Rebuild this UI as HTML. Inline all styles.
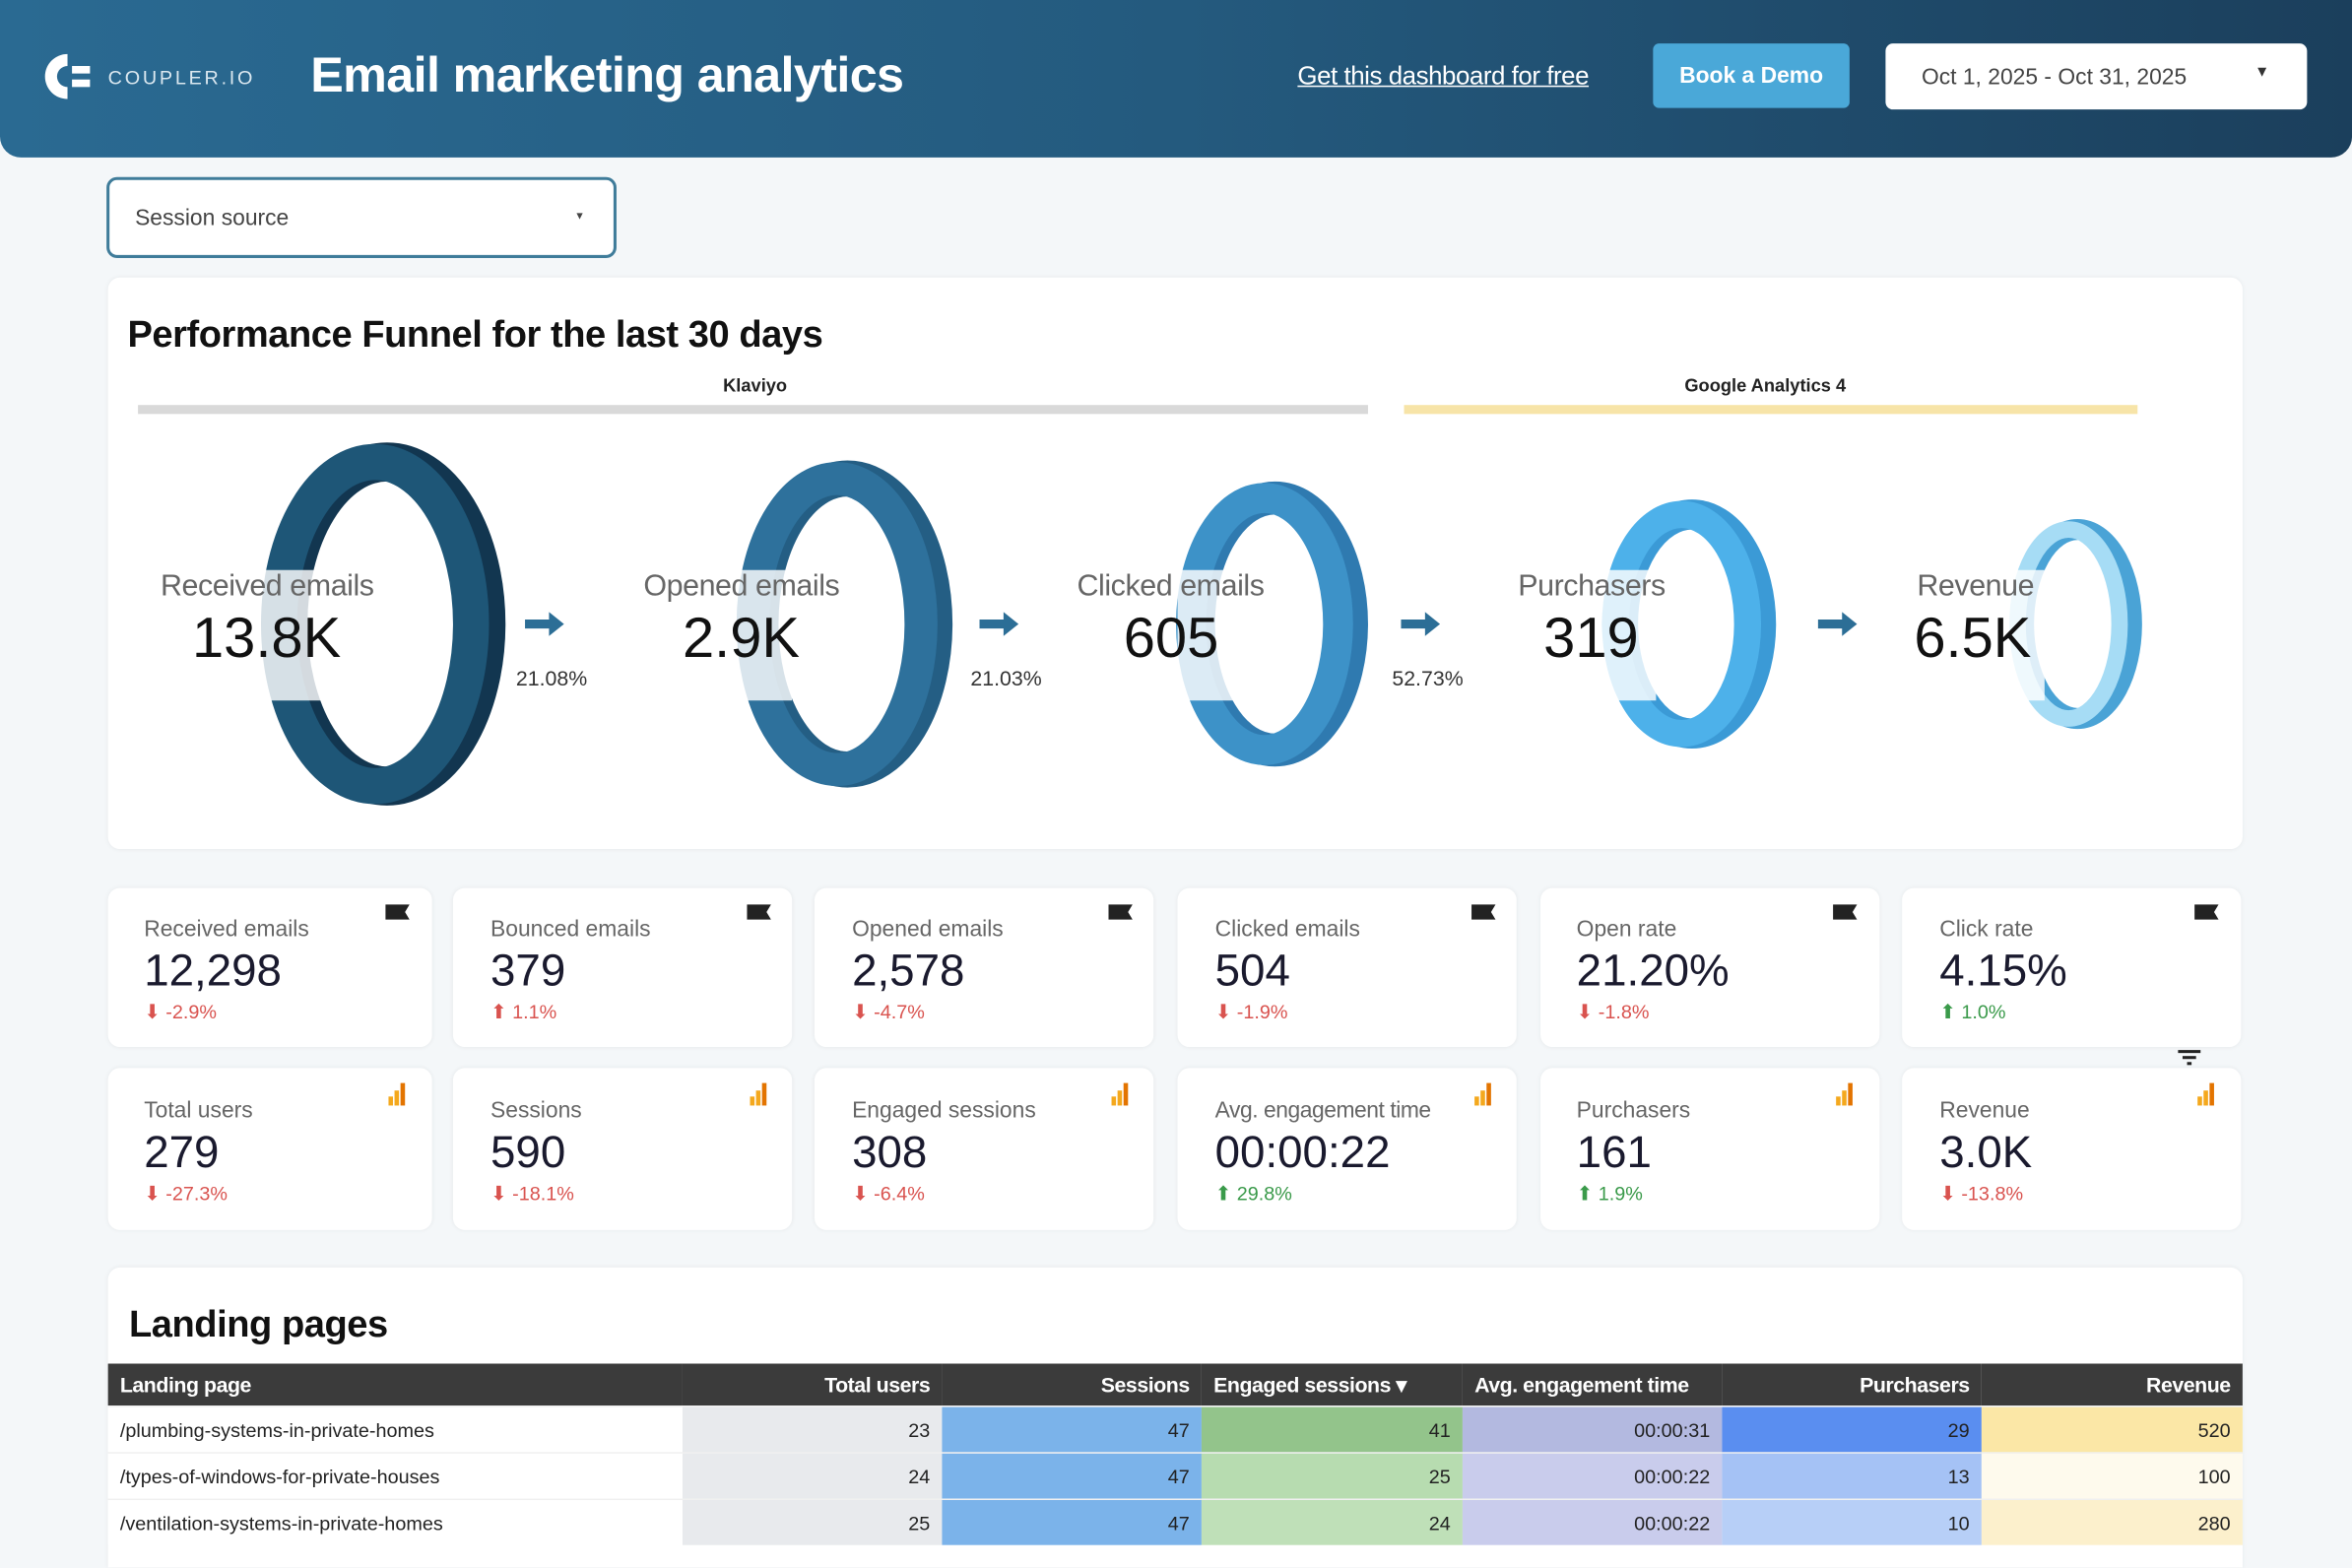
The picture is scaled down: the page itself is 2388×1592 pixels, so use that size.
<!DOCTYPE html>
<html><head><meta charset="utf-8">
<style>
html,body{margin:0;padding:0;width:2388px;height:1568px;overflow:hidden;background:#f4f7f9;}
#w{position:absolute;left:0;top:0;width:1568px;height:1030px;transform:scale(1.523);transform-origin:0 0;font-family:"Liberation Sans",sans-serif;}
.a{position:absolute;white-space:nowrap;}
.hdr{left:0;top:0;width:1568px;height:105px;border-radius:0 0 14px 14px;background:linear-gradient(90deg,#2a6a92 0%,#245a7e 50%,#1b3f5c 100%);}
.card{position:absolute;background:#fff;border-radius:8px;box-shadow:0 0 3px rgba(0,0,0,0.06);}
.lbl{font-size:15px;color:#666;}
.val{font-size:30px;color:#1a1a2e;}
.dn{font-size:13px;color:#d9534f;}
.up{font-size:13px;color:#3a9a4a;}
.fl{font-size:20px;color:#666;}
.fv{font-size:38px;color:#111;}
.pc{font-size:14px;color:#333;}
table{border-collapse:collapse;position:absolute;left:72px;top:909px;width:1423px;font-size:13px;table-layout:fixed;}
th{background:#3b3b3b;color:#fff;height:28px;font-size:14px;text-align:right;padding:0 8px;white-space:nowrap;overflow:hidden;letter-spacing:-0.3px;}
td{height:30px;text-align:right;padding:0 8px;color:#222;border-top:1px solid #f0f0f0;white-space:nowrap;}
</style></head><body><div id="w">
<div class="a hdr"></div>
<svg class="a" style="left:28px;top:34px" width="34" height="34" viewBox="0 0 34 34"><path d="M17 2 A15 15 0 1 0 17 32 L17 24 A7 7 0 1 1 17 10 Z" fill="#fff"/><rect x="20" y="10" width="12" height="5" fill="#fff"/><rect x="20" y="19" width="12" height="5" fill="#fff"/></svg>
<div class="a" style="left:72px;top:44px;font-size:13px;color:#dbe8f0;letter-spacing:1.8px;">COUPLER.IO</div>
<div class="a" style="left:207px;top:31px;font-size:33px;font-weight:bold;color:#fff;letter-spacing:-0.4px;">Email marketing analytics</div>
<div class="a" style="left:865px;top:41px;font-size:17px;color:#fff;text-decoration:underline;letter-spacing:-0.3px;">Get this dashboard for free</div>
<div class="a" style="left:1102px;top:29px;width:131px;height:43px;background:#4aa8d8;border-radius:4px;color:#fff;font-size:15px;font-weight:bold;text-align:center;line-height:43px;">Book a Demo</div>
<div class="a" style="left:1257px;top:29px;width:281px;height:44px;background:#fff;border-radius:5px;"></div>
<div class="a" style="left:1281px;top:43px;font-size:15px;color:#444;">Oct 1, 2025 - Oct 31, 2025</div>
<div class="a" style="left:1503px;top:43px;font-size:10px;color:#333;">▼</div>
<div class="a" style="left:71px;top:118px;width:336px;height:50px;border:2px solid #3f7c9a;border-radius:7px;background:#fff;"></div>
<div class="a" style="left:90px;top:137px;font-size:15px;color:#444;">Session source</div>
<div class="a" style="left:383px;top:141px;font-size:7px;color:#444;">▼</div>

<div class="card" style="left:72px;top:185px;width:1423px;height:381px;"></div>
<div class="a" style="left:85px;top:209px;font-size:25px;font-weight:bold;color:#111;letter-spacing:-0.3px;">Performance Funnel for the last 30 days</div>
<div class="a" style="left:482px;top:250px;font-size:12px;font-weight:bold;color:#222;">Klaviyo</div>
<div class="a" style="left:92px;top:270px;width:820px;height:6px;background:#d9d9d9;"></div>
<div class="a" style="left:1123px;top:250px;font-size:12px;font-weight:bold;color:#222;">Google Analytics 4</div>
<div class="a" style="left:936px;top:270px;width:489px;height:6px;background:#f7e4a8;"></div>

<svg class="a" style="left:0;top:280px" width="1568" height="280" viewBox="0 280 1568 280">
<g fill="none">
<ellipse cx="258" cy="416" rx="66" ry="108" stroke="#123650" stroke-width="26"/>
<ellipse cx="250" cy="416" rx="64" ry="108" stroke="#1e5677" stroke-width="24"/>
<ellipse cx="565" cy="416" rx="58" ry="97" stroke="#245e84" stroke-width="24"/>
<ellipse cx="558" cy="416" rx="56" ry="97" stroke="#2e719c" stroke-width="22"/>
<ellipse cx="850" cy="416" rx="51" ry="84" stroke="#2f7ab0" stroke-width="22"/>
<ellipse cx="843" cy="416" rx="49" ry="84" stroke="#3d92c8" stroke-width="20"/>
<ellipse cx="1128" cy="416" rx="46" ry="73" stroke="#3b9ad6" stroke-width="20"/>
<ellipse cx="1121" cy="416" rx="44" ry="73" stroke="#4db1ea" stroke-width="18"/>
<ellipse cx="1385" cy="416" rx="36" ry="63" stroke="#4aa3d6" stroke-width="14"/>
<ellipse cx="1379" cy="416" rx="34" ry="63" stroke="#a6dcf5" stroke-width="11"/>
</g>
<g fill="rgba(255,255,255,0.82)">
<rect x="170" y="380" width="45" height="87"/><rect x="488" y="380" width="40" height="87"/><rect x="785" y="380" width="38" height="87"/><rect x="1068" y="380" width="36" height="87"/><rect x="1335" y="380" width="28" height="87"/>
</g>
<g fill="#2c6e96"><path d="M350 413h16v-5l10 8-10 8v-5h-16z"/><path d="M653 413h16v-5l10 8-10 8v-5h-16z"/><path d="M934 413h16v-5l10 8-10 8v-5h-16z"/><path d="M1212 413h16v-5l10 8-10 8v-5h-16z"/></g>
</svg>
<div class="a fl" style="left:107px;top:380px;letter-spacing:-0.3px;">Received emails</div><div class="a fv" style="left:128px;top:405px;">13.8K</div>
<div class="a fl" style="left:429px;top:380px;letter-spacing:-0.3px;">Opened emails</div><div class="a fv" style="left:455px;top:405px;">2.9K</div>
<div class="a fl" style="left:718px;top:380px;letter-spacing:-0.3px;">Clicked emails</div><div class="a fv" style="left:749px;top:405px;">605</div>
<div class="a fl" style="left:1012px;top:380px;letter-spacing:-0.3px;">Purchasers</div><div class="a fv" style="left:1029px;top:405px;">319</div>
<div class="a fl" style="left:1278px;top:380px;letter-spacing:-0.3px;">Revenue</div><div class="a fv" style="left:1276px;top:405px;">6.5K</div>
<div class="a pc" style="left:344px;top:444px;">21.08%</div>
<div class="a pc" style="left:647px;top:444px;">21.03%</div>
<div class="a pc" style="left:928px;top:444px;">52.73%</div>

<div class="card" style="left:72px;top:592px;width:216px;height:106px;"></div>
<div class="card" style="left:302px;top:592px;width:226px;height:106px;"></div>
<div class="card" style="left:543px;top:592px;width:226px;height:106px;"></div>
<div class="card" style="left:785px;top:592px;width:226px;height:106px;"></div>
<div class="card" style="left:1027px;top:592px;width:226px;height:106px;"></div>
<div class="card" style="left:1268px;top:592px;width:226px;height:106px;"></div>
<div class="card" style="left:72px;top:712px;width:216px;height:108px;"></div>
<div class="card" style="left:302px;top:712px;width:226px;height:108px;"></div>
<div class="card" style="left:543px;top:712px;width:226px;height:108px;"></div>
<div class="card" style="left:785px;top:712px;width:226px;height:108px;"></div>
<div class="card" style="left:1027px;top:712px;width:226px;height:108px;"></div>
<div class="card" style="left:1268px;top:712px;width:226px;height:108px;"></div>

<div class="a lbl" style="left:96px;top:611px;">Received emails</div><div class="a val" style="left:96px;top:631px;">12,298</div><div class="a dn" style="left:96px;top:667px;">⬇ -2.9%</div>
<div class="a lbl" style="left:327px;top:611px;">Bounced emails</div><div class="a val" style="left:327px;top:631px;">379</div><div class="a dn" style="left:327px;top:667px;">⬆ 1.1%</div>
<div class="a lbl" style="left:568px;top:611px;">Opened emails</div><div class="a val" style="left:568px;top:631px;">2,578</div><div class="a dn" style="left:568px;top:667px;">⬇ -4.7%</div>
<div class="a lbl" style="left:810px;top:611px;">Clicked emails</div><div class="a val" style="left:810px;top:631px;">504</div><div class="a dn" style="left:810px;top:667px;">⬇ -1.9%</div>
<div class="a lbl" style="left:1051px;top:611px;">Open rate</div><div class="a val" style="left:1051px;top:631px;">21.20%</div><div class="a dn" style="left:1051px;top:667px;">⬇ -1.8%</div>
<div class="a lbl" style="left:1293px;top:611px;">Click rate</div><div class="a val" style="left:1293px;top:631px;">4.15%</div><div class="a up" style="left:1293px;top:667px;">⬆ 1.0%</div>

<div class="a lbl" style="left:96px;top:732px;">Total users</div><div class="a val" style="left:96px;top:752px;">279</div><div class="a dn" style="left:96px;top:788px;">⬇ -27.3%</div>
<div class="a lbl" style="left:327px;top:732px;">Sessions</div><div class="a val" style="left:327px;top:752px;">590</div><div class="a dn" style="left:327px;top:788px;">⬇ -18.1%</div>
<div class="a lbl" style="left:568px;top:732px;">Engaged sessions</div><div class="a val" style="left:568px;top:752px;">308</div><div class="a dn" style="left:568px;top:788px;">⬇ -6.4%</div>
<div class="a lbl" style="left:810px;top:732px;letter-spacing:-0.3px;">Avg. engagement time</div><div class="a val" style="left:810px;top:752px;">00:00:22</div><div class="a up" style="left:810px;top:788px;">⬆ 29.8%</div>
<div class="a lbl" style="left:1051px;top:732px;">Purchasers</div><div class="a val" style="left:1051px;top:752px;">161</div><div class="a up" style="left:1051px;top:788px;">⬆ 1.9%</div>
<div class="a lbl" style="left:1293px;top:732px;">Revenue</div><div class="a val" style="left:1293px;top:752px;">3.0K</div><div class="a dn" style="left:1293px;top:788px;">⬇ -13.8%</div>

<svg class="a" style="left:0;top:0" width="1568" height="830">
<g fill="#222">
<path d="M257 603h16l-3 5 3 5h-16z"/><path d="M498 603h16l-3 5 3 5h-16z"/><path d="M739 603h16l-3 5 3 5h-16z"/><path d="M981 603h16l-3 5 3 5h-16z"/><path d="M1222 603h16l-3 5 3 5h-16z"/><path d="M1463 603h16l-3 5 3 5h-16z"/>
<rect x="1452" y="700" width="15" height="2"/><rect x="1455" y="704" width="9" height="2"/><rect x="1458" y="708" width="3" height="2"/>
</g>
<g fill="#f4a81d">
<rect x="259" y="731" width="3" height="6"/><rect x="263" y="727" width="3" height="10"/><rect x="267" y="722" width="3" height="15" fill="#e37400"/>
<rect x="500" y="731" width="3" height="6"/><rect x="504" y="727" width="3" height="10"/><rect x="508" y="722" width="3" height="15" fill="#e37400"/>
<rect x="741" y="731" width="3" height="6"/><rect x="745" y="727" width="3" height="10"/><rect x="749" y="722" width="3" height="15" fill="#e37400"/>
<rect x="983" y="731" width="3" height="6"/><rect x="987" y="727" width="3" height="10"/><rect x="991" y="722" width="3" height="15" fill="#e37400"/>
<rect x="1224" y="731" width="3" height="6"/><rect x="1228" y="727" width="3" height="10"/><rect x="1232" y="722" width="3" height="15" fill="#e37400"/>
<rect x="1465" y="731" width="3" height="6"/><rect x="1469" y="727" width="3" height="10"/><rect x="1473" y="722" width="3" height="15" fill="#e37400"/>
</g>
</svg>

<div class="card" style="left:72px;top:845px;width:1423px;height:200px;border-radius:8px 8px 0 0;"></div>
<div class="a" style="left:86px;top:869px;font-size:25px;font-weight:bold;color:#111;letter-spacing:-0.3px;">Landing pages</div>
<table>
<colgroup><col style="width:383px"><col style="width:173px"><col style="width:173px"><col style="width:174px"><col style="width:173px"><col style="width:173px"><col style="width:174px"></colgroup>
<tr><th style="text-align:left;">Landing page</th><th>Total users</th><th>Sessions</th><th style="text-align:left;">Engaged sessions ▾</th><th style="text-align:left;">Avg. engagement time</th><th>Purchasers</th><th>Revenue</th></tr>
<tr><td style="text-align:left;background:#fff;">/plumbing-systems-in-private-homes</td><td style="background:#e8eaed">23</td><td style="background:#7bb3ea">47</td><td style="background:#93c48b">41</td><td style="background:#b3b9e0">00:00:31</td><td style="background:#5a8ef0">29</td><td style="background:#fbe7a6">520</td></tr>
<tr><td style="text-align:left;background:#fff;">/types-of-windows-for-private-houses</td><td style="background:#e8eaed">24</td><td style="background:#7bb3ea">47</td><td style="background:#b7dcb0">25</td><td style="background:#c9ccec">00:00:22</td><td style="background:#a5c2f5">13</td><td style="background:#fefaed">100</td></tr>
<tr><td style="text-align:left;background:#fff;">/ventilation-systems-in-private-homes</td><td style="background:#e8eaed">25</td><td style="background:#7bb3ea">47</td><td style="background:#bfe0b8">24</td><td style="background:#c9ccec">00:00:22</td><td style="background:#b7cff7">10</td><td style="background:#fcf0cc">280</td></tr>
</table>
</div></body></html>
